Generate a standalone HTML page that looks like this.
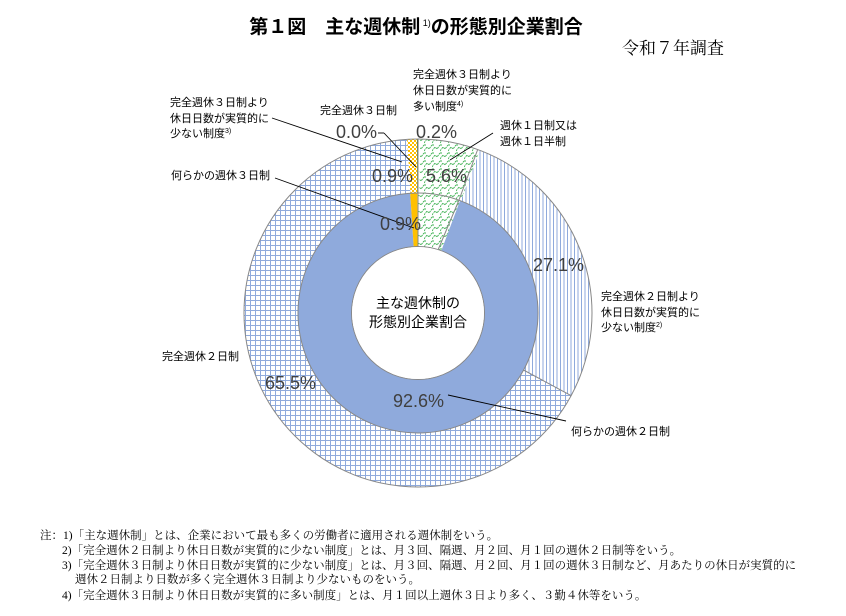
<!DOCTYPE html>
<html><head><meta charset="utf-8"><style>
body{margin:0;background:#fff;width:846px;height:616px;overflow:hidden}
svg{display:block}
.j{font-family:"Liberation Sans","Noto Sans CJK JP",sans-serif;font-size:11px;fill:#000}
.p{font-family:"Liberation Sans",sans-serif;font-size:18px;fill:#404040}
.n{font-family:"Liberation Serif","Noto Serif CJK SC",serif;font-size:11.5px;fill:#000}
</style></head><body>
<svg width="846" height="616" viewBox="0 0 846 616" xmlns="http://www.w3.org/2000/svg">
<defs>
<pattern id="grid" width="5" height="5" patternUnits="userSpaceOnUse">
<rect width="5" height="5" fill="#fff"/><path d="M0 0.5H5M0.5 0V5" stroke="#8faadc" stroke-width="1"/></pattern>
<pattern id="vs" width="3.5" height="4" patternUnits="userSpaceOnUse">
<rect width="3.5" height="4" fill="#fff"/><path d="M0.5 0V4" stroke="#8faadc" stroke-width="1"/></pattern>
<pattern id="gz" width="8" height="8" patternUnits="userSpaceOnUse">
<rect width="8" height="8" fill="#fff"/><path d="M0 7L3 3L5 5L8 1M0 1H2" fill="none" stroke="#3cb050" stroke-width="0.9" stroke-dasharray="2 0.8"/></pattern>
<pattern id="yc" width="4" height="4" patternUnits="userSpaceOnUse">
<rect width="4" height="4" fill="#ffc000"/><rect width="2" height="2" fill="#fff"/><rect x="2" y="2" width="2" height="2" fill="#fff"/></pattern>
</defs>
<text x="416" y="33" text-anchor="middle" font-family="Liberation Sans,'Noto Sans CJK JP',sans-serif" font-size="19" font-weight="bold">第１図　主な週休制<tspan font-size="9" dy="-7" font-weight="normal"> 1)</tspan><tspan dy="7">の形態別企業割合</tspan></text>
<text x="622" y="54" font-family="Liberation Serif,'Noto Serif CJK SC',serif" font-size="17">令和７年調査</text>

<g fill="none">
<circle cx="418" cy="313" r="147" pathLength="100" stroke="url(#gz)" stroke-width="54" stroke-dasharray="5.6 94.4" stroke-dashoffset="24.8"/>
<circle cx="418" cy="313" r="147" pathLength="100" stroke="url(#vs)" stroke-width="54" stroke-dasharray="27.1 72.9" stroke-dashoffset="19.2"/>
<circle cx="418" cy="313" r="147" pathLength="100" stroke="url(#grid)" stroke-width="54" stroke-dasharray="66.1 33.9" stroke-dashoffset="-7.9"/>
<circle cx="418" cy="313" r="147" pathLength="100" stroke="url(#yc)" stroke-width="54" stroke-dasharray="0.9 99.1" stroke-dashoffset="-74"/>
<circle cx="418" cy="313" r="147" pathLength="100" stroke="#548235" stroke-width="54" stroke-dasharray="0.15 99.85" stroke-dashoffset="-74.9"/>
<circle cx="418" cy="313" r="93.2" pathLength="100" stroke="url(#gz)" stroke-width="53.5" stroke-dasharray="5.8 94.2" stroke-dashoffset="25"/>
<circle cx="418" cy="313" r="93.2" pathLength="100" stroke="#8faadc" stroke-width="53.5" stroke-dasharray="93.25 6.75" stroke-dashoffset="19.2"/>
<circle cx="418" cy="313" r="93.2" pathLength="100" stroke="#ffc000" stroke-width="53.5" stroke-dasharray="0.95 99.05" stroke-dashoffset="-74.05"/>
</g>
<g fill="none" stroke="#888" stroke-width="1">
<circle cx="418" cy="313" r="174"/>
<circle cx="418" cy="313" r="120"/>
<circle cx="418" cy="313" r="66.5"/>
<line x1="523.5" y1="370" x2="571" y2="395.6"/>
<line x1="418" y1="139" x2="418" y2="246"/>
<line x1="477.5" y1="150" x2="459" y2="200"/>
<line x1="459" y1="200" x2="438" y2="250"/>
</g>
<circle cx="418" cy="313" r="66" fill="#fff"/>

<g stroke="#000" stroke-width="0.9" fill="none">
<line x1="272" y1="118" x2="402" y2="162"/>
<line x1="378" y1="133" x2="384" y2="133"/>
<line x1="384" y1="133" x2="416" y2="167"/>
<line x1="493" y1="133" x2="450" y2="160"/>
<line x1="275" y1="178" x2="414" y2="228"/>
<line x1="448" y1="395" x2="566" y2="421"/>
</g>

<text class="j" x="413" y="78">完全週休３日制より</text>
<text class="j" x="413" y="94">休日日数が実質的に</text>
<text class="j" x="413" y="110">多い制度<tspan font-size="7" dy="-4">4)</tspan></text>
<text class="j" x="170" y="106">完全週休３日制より</text>
<text class="j" x="170" y="122">休日日数が実質的に</text>
<text class="j" x="170" y="137">少ない制度<tspan font-size="7" dy="-4">3)</tspan></text>
<text class="j" x="320" y="114">完全週休３日制</text>
<text class="j" x="500" y="129">週休１日制又は</text>
<text class="j" x="500" y="145">週休１日半制</text>
<text class="j" x="171" y="179">何らかの週休３日制</text>
<text class="j" x="601" y="300">完全週休２日制より</text>
<text class="j" x="601" y="316">休日日数が実質的に</text>
<text class="j" x="601" y="331">少ない制度<tspan font-size="7" dy="-4">2)</tspan></text>
<text class="j" x="162" y="360">完全週休２日制</text>
<text class="j" x="571" y="435">何らかの週休２日制</text>

<text class="p" x="336" y="138">0.0%</text>
<text class="p" x="416" y="138">0.2%</text>
<text class="p" x="372" y="182">0.9%</text>
<text class="p" x="426" y="182">5.6%</text>
<text class="p" x="380" y="230">0.9%</text>
<text class="p" x="533" y="271">27.1%</text>
<text class="p" x="265" y="389">65.5%</text>
<text class="p" x="393" y="407">92.6%</text>

<text x="418" y="308" text-anchor="middle" font-family="Liberation Sans,'Noto Sans CJK JP',sans-serif" font-size="14">主な週休制の</text>
<text x="418" y="327" text-anchor="middle" font-family="Liberation Sans,'Noto Sans CJK JP',sans-serif" font-size="14">形態別企業割合</text>

<text class="n" x="40" y="539">注：1)「主な週休制」とは、企業において最も多くの労働者に適用される週休制をいう。</text>
<text class="n" x="62" y="554">2)「完全週休２日制より休日日数が実質的に少ない制度」とは、月３回、隔週、月２回、月１回の週休２日制等をいう。</text>
<text class="n" x="62" y="569">3)「完全週休３日制より休日日数が実質的に少ない制度」とは、月３回、隔週、月２回、月１回の週休３日制など、月あたりの休日が実質的に</text>
<text class="n" x="75" y="583">週休２日制より日数が多く完全週休３日制より少ないものをいう。</text>
<text class="n" x="62" y="599">4)「完全週休３日制より休日日数が実質的に多い制度」とは、月１回以上週休３日より多く、３勤４休等をいう。</text>
</svg>
</body></html>
